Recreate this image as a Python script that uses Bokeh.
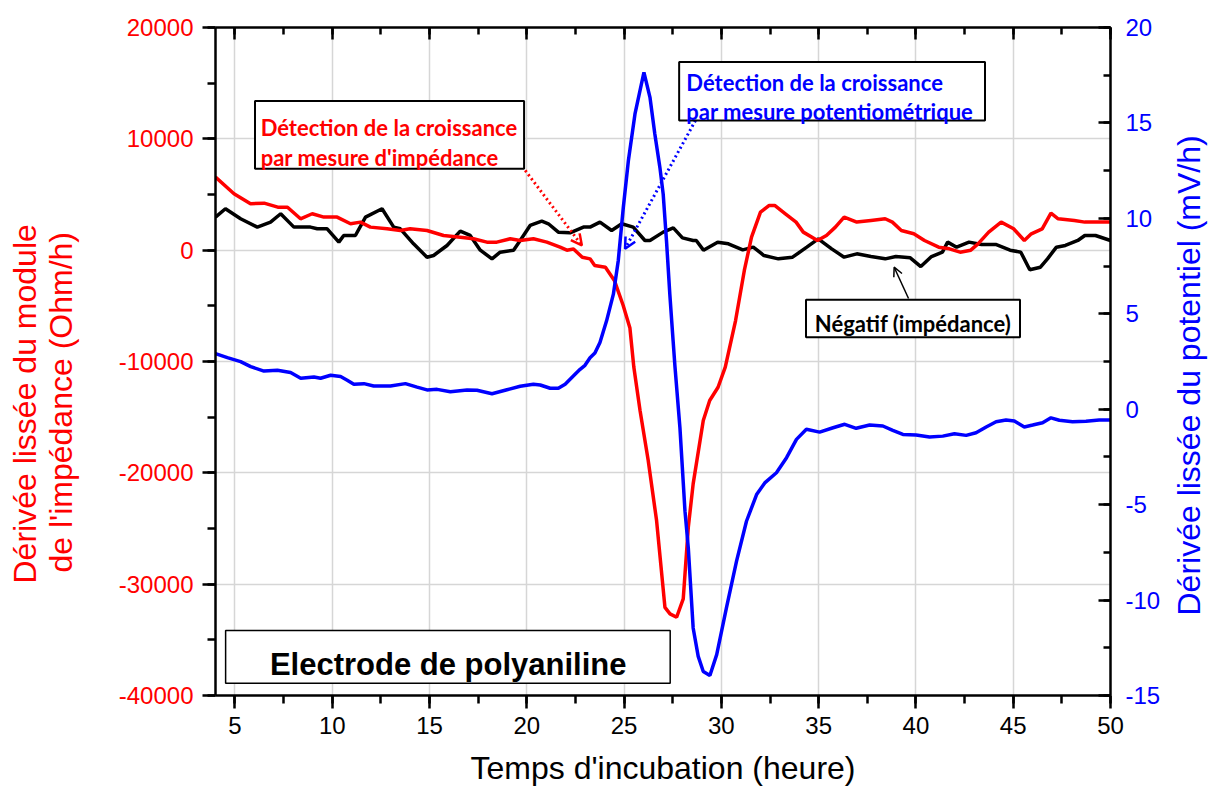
import math
from bokeh.plotting import figure
from bokeh.layouts import row
from bokeh.models import (Range1d, LinearAxis, SingleIntervalTicker, Label, Title,
                          Arrow, OpenHead, BoxAnnotation, CustomJSTickFormatter)
from bokeh.embed import file_html
from bokeh.resources import INLINE

# ---------------- data ----------------
imp_x = [4.0, 4.95, 5.8, 6.5, 7.2, 7.7, 8.37, 8.97, 9.57, 10.25, 10.94, 11.45, 11.96,
         12.82, 13.5, 14.0, 14.87, 15.72, 16.58, 17.26, 17.95, 18.46, 19.15, 19.66,
         20.34, 21.03, 21.71, 22.06, 22.4, 22.85, 23.25, 23.49, 24.04, 24.5, 24.95,
         25.3, 25.5, 25.82, 26.24, 26.67, 27.1, 27.36, 27.7, 28.04, 28.3, 28.55, 29.07,
         29.4, 29.83, 30.2, 30.73, 31.18, 31.55, 32.01, 32.46, 32.74, 33.29, 33.84,
         34.21, 34.94, 35.4, 35.86, 36.31, 36.96, 37.69, 38.42, 38.79, 39.25, 39.89,
         40.44, 41.17, 41.72, 42.27, 42.82, 43.19, 43.74, 44.38, 45.02, 45.57, 45.93,
         46.49, 46.94, 47.31, 48.14, 48.68, 49.23, 50.0]
imp_y = [6560, 5070, 4170, 4220, 3860, 3860, 2820, 3270, 2970, 2970, 2370, 2520, 2070,
         1920, 1770, 1920, 1770, 1320, 1170, 1020, 720, 720, 1020, 870,
         1020, 720, 270, 0, 100, -630, -780, -1370, -1530, -2720, -4950,
         -7000, -10500, -14400, -18900, -24290, -32080, -32670, -32970, -31320, -24890, -20990, -15300,
         -13500, -12310, -10500, -6320, -1820, 1170, 3410, 4020, 4020, 3270, 2520,
         1620, 870, 1320, 2070, 2970, 2520, 2670, 2820, 2520, 1770, 1470,
         870, 270, 120, -180, 0, 570, 1620, 2520, 1920, 870, 1470,
         1920, 3320, 2820, 2670, 2520, 2520, 2520]

neg_x = [4.0, 4.51, 5.29, 6.15, 6.83, 7.35, 8.03, 8.88, 9.23, 9.74, 10.34, 10.59, 11.19,
         11.71, 12.56, 13.16, 13.5, 14.18, 14.87, 15.21, 15.9, 16.58, 17.09, 17.61,
         18.21, 18.63, 19.32, 19.66, 20.17, 20.77, 21.11, 21.62, 22.22, 22.91, 23.25,
         23.76, 24.36, 24.88, 25.47, 26.07, 26.33, 27.01, 27.53, 28.0, 28.55, 28.71,
         29.08, 29.81, 30.36, 31.1, 31.64, 32.19, 32.93, 33.66, 34.39, 34.98, 35.67,
         36.31, 36.96, 37.69, 38.42, 38.97, 39.71, 40.25, 40.8, 41.36, 41.63, 42.09,
         42.73, 43.37, 44.1, 44.84, 45.39, 45.85, 46.4, 46.76, 47.22, 47.68, 48.32,
         48.68, 49.23, 50.0]
neg_y = [2970, 3720, 2820, 2070, 2520, 3270, 2070, 2070, 1920, 1920, 720, 1320, 1320,
         2970, 3720, 2070, 1920, 570, -630, -480, 420, 1710, 1320, 0,
         -780, -180, 0, 870, 2220, 2600, 2370, 1620, 1560, 2070, 2070,
         2520, 1770, 2370, 2070, 870, 870, 1620, 2000, 1100, 870, 870,
         0, 720, 570, 30, 270, -480, -780, -630, 270, 1020, 120,
         -630, -330, -570, -780, -570, -690, -1470, -570, -180, 720, 270,
         720, 510, 510, 0, -180, -1760, -1530, -780, 270, 420, 870,
         1320, 1320, 870]

pot_x = [4.0, 4.61, 5.29, 5.81, 6.49, 7.18, 7.86, 8.38, 9.06, 9.4, 9.92, 10.43, 10.77,
         11.11, 11.63, 12.13, 12.99, 13.76, 14.36, 14.87, 15.39, 16.07, 16.93, 17.44,
         18.21, 18.98, 19.66, 20.34, 20.69, 21.2, 21.62, 21.97, 22.48, 22.74, 22.99,
         23.25, 23.5, 23.76, 24.1, 24.45, 24.7, 24.96, 25.22, 25.56, 26.02, 26.33,
         26.58, 26.84, 27.01, 27.18, 27.35, 27.52, 27.61, 27.87, 28.13, 28.3, 28.55,
         28.81, 29.07, 29.41, 29.76, 30.26, 30.78, 31.29, 31.81, 32.23, 32.83, 33.35,
         33.86, 34.37, 35.05, 35.74, 36.34, 36.93, 37.62, 38.3, 38.81, 39.33, 40.01,
         40.7, 41.38, 41.98, 42.58, 43.09, 43.61, 44.12, 44.63, 45.06, 45.57, 46.0,
         46.51, 46.94, 47.37, 48.05, 48.74, 49.42, 50.0]
pot_y = [2.91, 2.70, 2.49, 2.23, 2.00, 2.04, 1.92, 1.62, 1.69, 1.62, 1.78, 1.71, 1.52,
         1.31, 1.34, 1.22, 1.22, 1.34, 1.16, 1.01, 1.04, 0.92, 1.01, 0.99,
         0.81, 1.02, 1.20, 1.31, 1.27, 1.10, 1.10, 1.31, 1.83, 2.09, 2.30,
         2.70, 2.95, 3.50, 4.63, 6.03, 7.78, 10.57, 13.02, 15.47, 17.65, 16.34,
         14.42, 12.67, 11.27, 8.82, 6.03, 3.58, 2.30, -0.97, -5.34, -7.27, -11.46,
         -12.95, -13.74, -13.95, -12.86, -10.41, -7.96, -5.87, -4.47, -3.86, -3.33, -2.54,
         -1.58, -1.05, -1.20, -0.97, -0.79, -1.00, -0.83, -0.88, -1.11, -1.32, -1.35,
         -1.46, -1.41, -1.29, -1.37, -1.23, -0.93, -0.66, -0.57, -0.62, -0.93, -0.83,
         -0.71, -0.45, -0.58, -0.66, -0.63, -0.57, -0.57]

x_title = "Temps d'incubation (heure)"
left_title = ["Dérivée lissée du module", "de l'impédance (Ohm/h)"]
right_title = "Dérivée lissée du potentiel (mV/h)"
note_imp = ["Détection de la croissance", "par mesure d'impédance"]
note_pot = ["Détection de la croissance", "par mesure potentiométrique"]
note_neg = "Négatif (impédance)"
note_electrode = "Electrode de polyaniline"

# ---------------- figure ----------------
AXFONT = "Liberation Sans"
NOTEFONT = "Lato"

p = figure(frame_width=895, frame_height=668,
           x_range=Range1d(4, 50), y_range=Range1d(-40000, 20000),
           output_backend="svg", toolbar_location=None,
           min_border_left=215, min_border_right=52,
           min_border_top=27, min_border_bottom=97,
           background_fill_color="white", border_fill_color="white")
p.extra_y_ranges = {"pot": Range1d(-15, 20)}
p.outline_line_color = None

fmt = CustomJSTickFormatter(code="return tick.toString()")

def style_axis(ax):
    ax.axis_line_width = 2.5
    ax.axis_line_color = "black"
    ax.major_tick_line_width = 2.5
    ax.minor_tick_line_width = 2.5
    ax.major_tick_line_color = "black"
    ax.minor_tick_line_color = "black"
    ax.major_label_text_font = AXFONT
    ax.major_label_text_font_size = "24px"
    ax.axis_label_text_font = AXFONT
    ax.axis_label_text_font_size = "32px"
    ax.axis_label_text_font_style = "normal"

bx = p.xaxis[0]
bx.ticker = SingleIntervalTicker(interval=5, num_minor_ticks=2)
style_axis(bx)
bx.formatter = fmt
bx.major_tick_out = 13; bx.major_tick_in = 0
bx.minor_tick_out = 8; bx.minor_tick_in = 0
bx.major_label_standoff = 8
bx.major_label_text_color = "black"
bx.axis_label = x_title
bx.axis_label_text_color = "black"
bx.axis_label_standoff = 13

ly = p.yaxis[0]
ly.ticker = SingleIntervalTicker(interval=10000, num_minor_ticks=2)
style_axis(ly)
ly.formatter = fmt
ly.major_tick_out = 13; ly.major_tick_in = 0
ly.minor_tick_out = 8; ly.minor_tick_in = 0
ly.major_label_standoff = 9
ly.major_label_text_color = "red"

ta = LinearAxis(ticker=SingleIntervalTicker(interval=5, num_minor_ticks=2))
style_axis(ta)
ta.major_tick_in = 12; ta.major_tick_out = 0
ta.minor_tick_in = 7; ta.minor_tick_out = 0
ta.major_label_text_font_size = "0px"
ta.major_label_text_color = None
ta.major_label_standoff = 0
p.add_layout(ta, "above")

ry = LinearAxis(y_range_name="pot",
                ticker=SingleIntervalTicker(interval=5, num_minor_ticks=2))
style_axis(ry)
ry.formatter = fmt
ry.major_tick_in = 12; ry.major_tick_out = 0
ry.minor_tick_in = 7; ry.minor_tick_out = 0
ry.major_label_standoff = 15
ry.major_label_text_color = "blue"
p.add_layout(ry, "right")

# left axis title: two lines, as side titles (inner line added first)
p.add_layout(Title(text=left_title[1], align="left", offset=123, standoff=74,
                   text_font=AXFONT, text_font_size="32px", text_font_style="normal",
                   text_color="red"), "left")
p.add_layout(Title(text=left_title[0], align="left", offset=112, standoff=-79,
                   text_font=AXFONT, text_font_size="32px", text_font_style="normal",
                   text_color="red"), "left")

p.xgrid.grid_line_color = "#d6d6d6"
p.xgrid.grid_line_width = 1.5
p.ygrid.grid_line_color = "#d6d6d6"
p.ygrid.grid_line_width = 1.5

# ---------------- curves ----------------
p.line(neg_x, neg_y, line_color="black", line_width=3.5)
p.line(imp_x, imp_y, line_color="red", line_width=3.5)
p.line(pot_x, pot_y, line_color="blue", line_width=3.5, y_range_name="pot")

# ---------------- annotations ----------------
def box(l, r, b, t, lw=2):
    p.add_layout(BoxAnnotation(left=l, right=r, bottom=b, top=t,
                               fill_color="white", fill_alpha=1.0,
                               line_color="black", line_width=lw, line_alpha=1.0))

def note(x, y, txt, color, size="22px", font=NOTEFONT, align="left"):
    p.add_layout(Label(x=x, y=y, text=txt, text_font=font, text_font_size=size,
                       text_font_style="bold", text_color=color,
                       text_align=align, text_baseline="alphabetic"))

# red note
p.add_layout(Arrow(x_start=19.92, y_start=7160, x_end=22.83, y_end=420,
                   line_color="red", line_width=3, line_dash="2 3",
                   end=OpenHead(size=11, line_color="red", line_width=2.5)))
box(6.03, 19.86, 7310, 13390)
note(6.32, 11000, note_imp[0], "red")
note(6.32, 8360, note_imp[1], "red")

# blue note
p.add_layout(Arrow(x_start=28.67, y_start=11650, x_end=25.05, y_end=130,
                   line_color="blue", line_width=3, line_dash="2 3",
                   end=OpenHead(size=11, line_color="blue", line_width=2.5)))
box(27.83, 43.55, 11650, 16890)
note(28.2, 15090, note_pot[0], "blue")
note(28.2, 12490, note_pot[1], "blue")

# black note
p.add_layout(Arrow(x_start=39.62, y_start=-4340, x_end=38.88, y_end=-1530,
                   line_color="black", line_width=1.5,
                   end=OpenHead(size=9, line_color="black", line_width=1.5)))
box(34.35, 45.35, -7820, -4460)
note(39.85, -6610, note_neg, "black", align="center")

# electrode
box(4.52, 27.37, -38900, -34170, lw=1.5)
note(15.96, -37250, note_electrode, "black", size="31px", font=AXFONT, align="center")

# ---------------- right-axis title (reads bottom-to-top) in a slim side figure ----------------
p2 = figure(frame_width=2, frame_height=668,
            x_range=Range1d(0, 1), y_range=Range1d(-15, 20),
            output_backend="svg", toolbar_location=None,
            x_axis_location=None, y_axis_location=None,
            min_border_left=43, min_border_right=0,
            min_border_top=27, min_border_bottom=97,
            background_fill_color="white", border_fill_color="white")
p2.outline_line_color = None
p2.grid.visible = False
p2.add_layout(Title(text=right_title, align="left", offset=80, standoff=0,
                    text_font=AXFONT, text_font_size="32px", text_font_style="normal",
                    text_color="blue"), "left")

layout = row(p, p2)
open("out.html", "w").write(file_html(layout, INLINE))
